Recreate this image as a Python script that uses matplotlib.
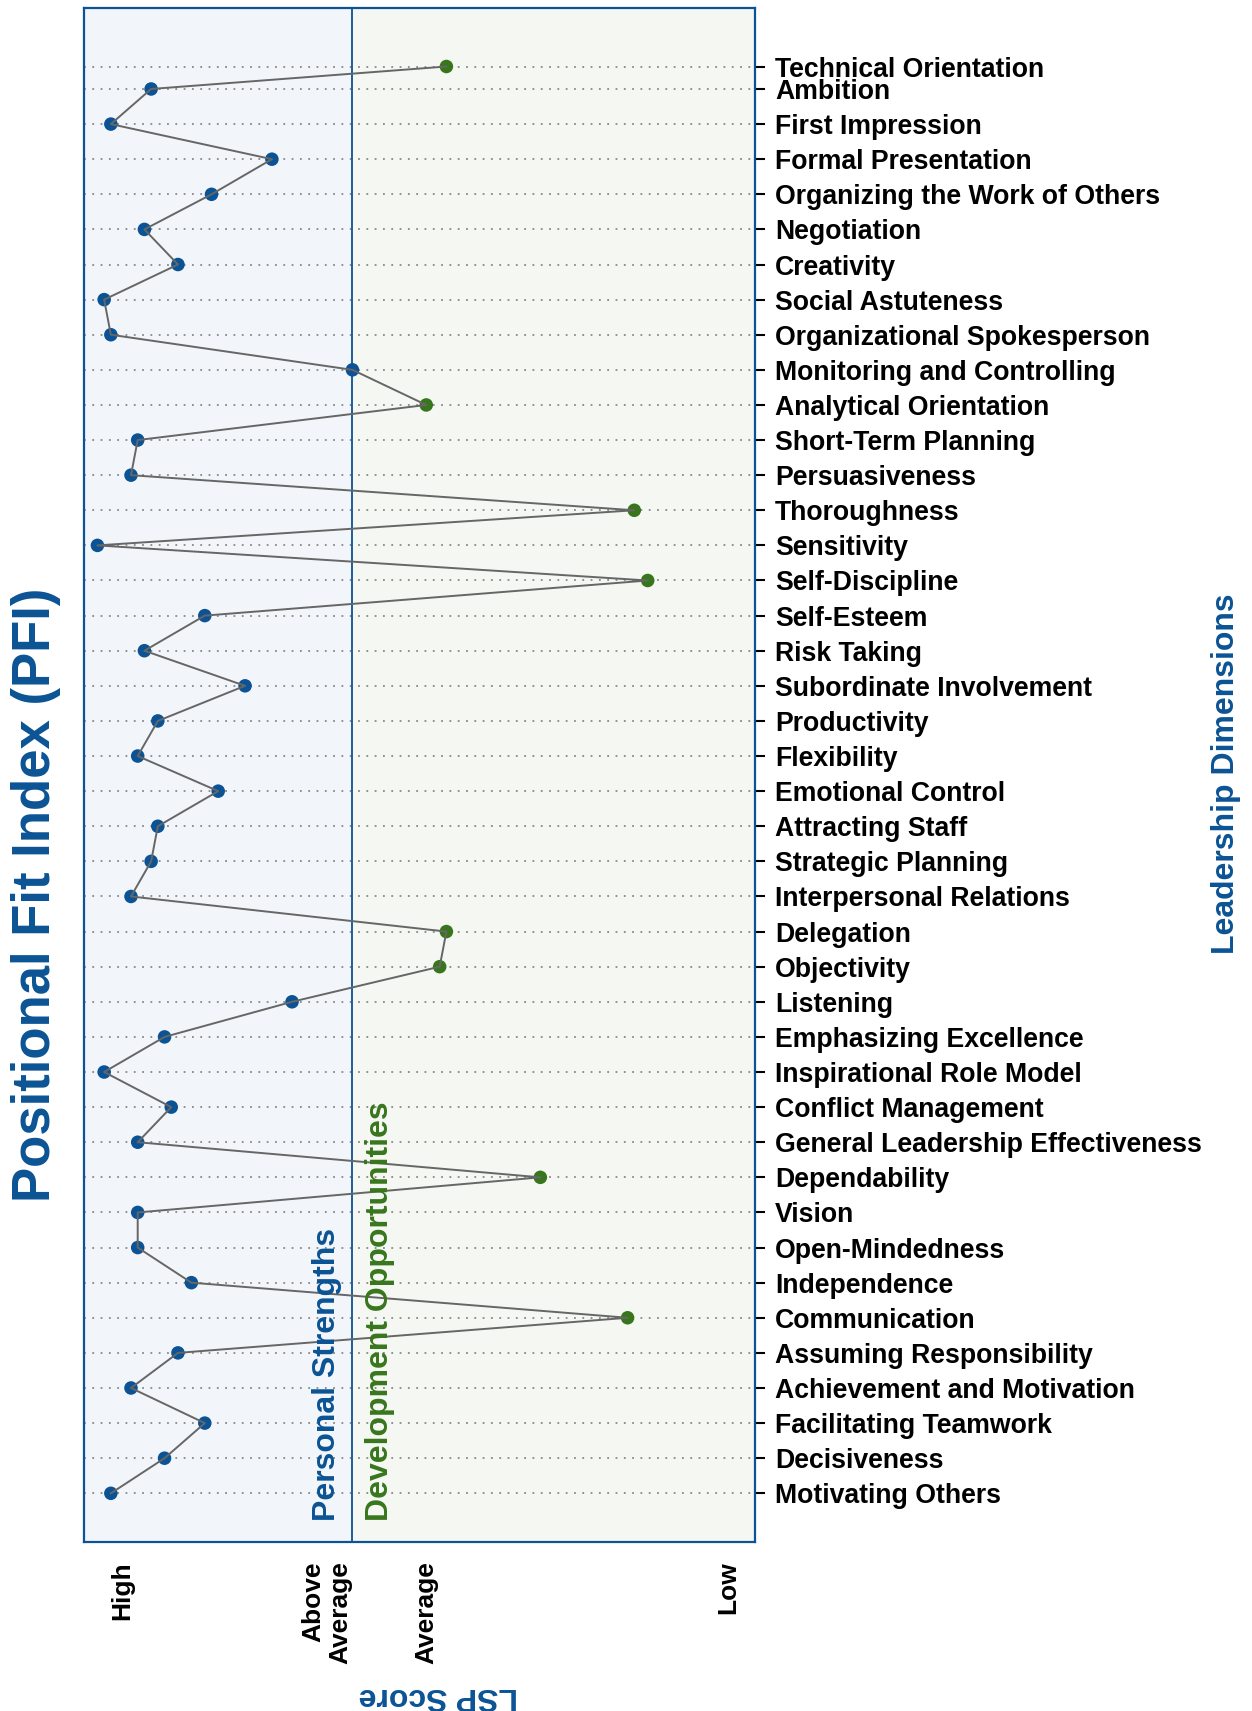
import matplotlib
matplotlib.use("Agg")
import matplotlib.pyplot as plt

plt.rcParams['font.family'] = ['Liberation Sans', 'DejaVu Sans']

# Leadership dimensions, top to bottom, and their LSP score (0 = high, 100 = low)
dimensions = ["Technical Orientation", "Ambition", "First Impression", "Formal Presentation",
              "Organizing the Work of Others", "Negotiation", "Creativity", "Social Astuteness",
              "Organizational Spokesperson", "Monitoring and Controlling", "Analytical Orientation",
              "Short-Term Planning", "Persuasiveness", "Thoroughness", "Sensitivity",
              "Self-Discipline", "Self-Esteem", "Risk Taking", "Subordinate Involvement",
              "Productivity", "Flexibility", "Emotional Control", "Attracting Staff",
              "Strategic Planning", "Interpersonal Relations", "Delegation", "Objectivity",
              "Listening", "Emphasizing Excellence", "Inspirational Role Model",
              "Conflict Management", "General Leadership Effectiveness", "Dependability",
              "Vision", "Open-Mindedness", "Independence", "Communication",
              "Assuming Responsibility", "Achievement and Motivation", "Facilitating Teamwork",
              "Decisiveness", "Motivating Others"]
scores = [54, 10, 4, 28, 19, 9, 14, 3, 4, 40, 51, 8, 7, 82, 2, 84, 18, 9, 24, 11, 8, 20,
          11, 10, 7, 54, 53, 31, 12, 3, 13, 8, 68, 8, 8, 16, 81, 14, 7, 18, 12, 4]
# row positions (first row sits closer to the second one in the original)
rows = [40.64] + list(range(40, -1, -1))

score_ticks = [5.7, 36.2, 51, 96]
score_labels = ["High", "Above\nAverage", "Average", "Low"]
threshold = 40

blue = '#0b5394'
green = '#38761d'

fig = plt.figure(figsize=(12.52, 17.11), dpi=100)
ax = fig.add_axes([0.0671, 0.0985, 0.5360, 0.8971])

ax.axvspan(0, threshold, color='#f2f6fa', zorder=0)
ax.axvspan(threshold, 100, color='#f5f7f2', zorder=0)
ax.axvline(threshold, color=blue, lw=1.3, zorder=2)

ax.plot(scores, rows, color='#666666', lw=1.4, zorder=5)
colors = [blue if s <= threshold else green for s in scores]
ax.scatter(scores, rows, s=95, c=colors, zorder=4, linewidths=0)

ax.set_xlim(0, 100)
ax.set_ylim(-1.40, 42.32)

ax.yaxis.tick_right()
ax.set_yticks(rows)
ax.set_yticklabels(dimensions, fontsize=19.2, fontweight='bold')
ax.tick_params(axis='y', length=7, width=1.5, color='black', pad=7.5)
ax.grid(axis='y', color='#888888', linestyle=(0, (1, 3.6)), lw=1.3, zorder=1)

ax.set_xticks(score_ticks)
ax.set_xticklabels(score_labels, fontsize=19, fontweight='bold', rotation=90,
                   va='top', ha='center', multialignment='right')
ax.tick_params(axis='x', length=0, pad=13.5)

for sp in ax.spines.values():
    sp.set_color(blue)
    sp.set_linewidth(1.6)

ax.text(0.384, 0.014, "Personal Strengths", transform=ax.transAxes, rotation=90,
        ha='right', va='bottom', fontsize=23, fontweight='bold', color=blue, zorder=6)
ax.text(0.418, 0.014, "Development Opportunities", transform=ax.transAxes, rotation=90,
        ha='left', va='bottom', fontsize=23, fontweight='bold', color=green, zorder=6)

fig.text(0.029, 0.477, "Positional Fit Index (PFI)", rotation=90, ha='center', va='center',
         fontsize=38, fontweight='bold', color=blue)
fig.text(0.979, 0.548, "Leadership Dimensions", rotation=90, ha='center', va='center',
         fontsize=23, fontweight='bold', color=blue)
fig.text(0.350, 0.009, "LSP Score", rotation=180, ha='center', va='center',
         fontsize=23, fontweight='bold', color=blue)

fig.savefig("out.png", dpi=100)
